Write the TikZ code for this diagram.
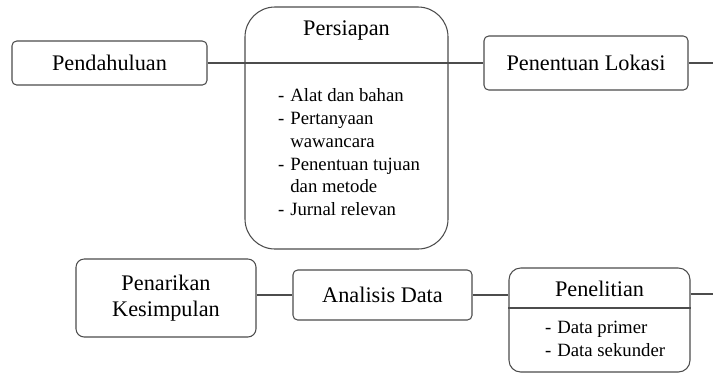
\documentclass[tikz,border=0pt]{standalone}
\usepackage{fontspec}
\setmainfont{Liberation Serif}
\usetikzlibrary{shapes}
\tikzstyle{line} = [draw, color=black!70, line width=0.9pt]
\tikzstyle{block} = [rectangle, draw=black!70, line width=0.9pt, rounded corners=4pt,
  text centered, font=\fontsize{19}{22}\selectfont]
\tikzstyle{bigblock} = [rectangle, draw=black!70, line width=0.9pt, rounded corners=0.9cm]
\tikzstyle{title} = [font=\fontsize{19}{22}\selectfont]
\tikzstyle{list} = [anchor=west, inner sep=0pt, font=\fontsize{16}{19.5}\selectfont]

\begin{document}
\begin{tikzpicture}[x=0.03cm, y=-0.03cm]
  \useasboundingbox (0,0) rectangle (713,378);

  \node [block, minimum width=5.85cm, minimum height=1.32cm] (pend) at (109.5,63) {Pendahuluan};
  \node [bigblock, minimum width=6.09cm, minimum height=7.26cm] (persiapan) at (346.5,128) {};
  \node [title] (persTitle) at (346.5,30) {Persiapan};
  \node [list] (persList) at (278,154) {%
    \renewcommand{\arraystretch}{1}%
    \begin{tabular}{@{}l@{\hspace{5pt}}l@{}}
      - & Alat dan bahan\\
      - & Pertanyaan\\
        & wawancara\\
      - & Penentuan tujuan\\
        & dan metode\\
      - & Jurnal relevan
    \end{tabular}};
  \node [block, minimum width=6.12cm, minimum height=1.62cm] (lokasi) at (586,63) {Penentuan Lokasi};
  \coordinate (lokEnd) at (713,63);

  \node [block, rounded corners=7pt, minimum width=5.4cm, minimum height=2.34cm, align=center]
    (kesimpulan) at (166,298) {Penarikan\\Kesimpulan};
  \node [block, minimum width=5.37cm, minimum height=1.5cm] (analisis) at (382.5,295) {Analisis Data};
  \node [bigblock, rounded corners=10pt, minimum width=5.43cm, minimum height=3.12cm] (penelitian) at (599.5,320) {};
  \node [title] (penTitle) at (599.5,289) {Penelitian};
  \node [list] (penList) at (545,340) {%
    \renewcommand{\arraystretch}{1}%
    \begin{tabular}{@{}l@{\hspace{5pt}}l@{}}
      - & Data primer\\
      - & Data sekunder
    \end{tabular}};
  \coordinate (penEnd) at (713,294);

  \path [line] (pend) -- (lokasi);
  \path [line] (lokasi) -- (lokEnd);
  \path [line] ([yshift=0.36cm]penelitian.west) -- ([yshift=0.36cm]penelitian.east);
  \path [line] (kesimpulan.east |- analisis) -- (analisis);
  \path [line] (analisis) -- (analisis -| penelitian.west);
  \path [line] (penelitian.east |- penEnd) -- (penEnd);

\end{tikzpicture}
\end{document}
